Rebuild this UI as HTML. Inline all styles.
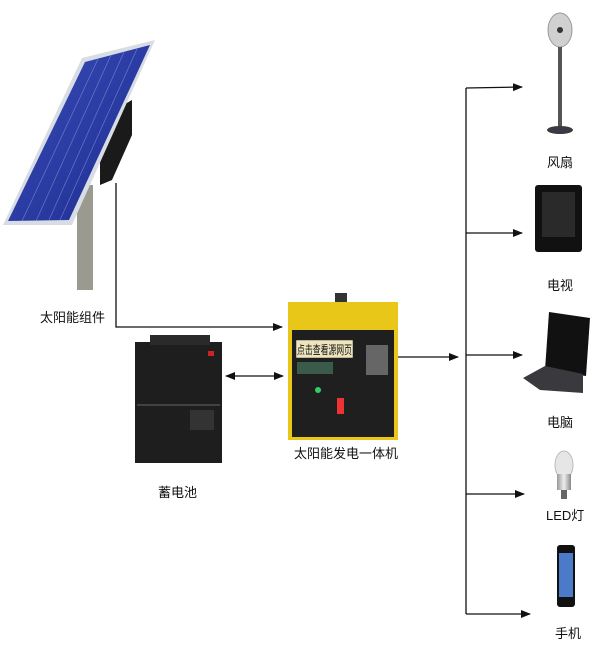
<!DOCTYPE html>
<html><head><meta charset="utf-8"><style>
html,body{margin:0;padding:0;background:#fff;}
svg text{font-family:"Liberation Sans","Noto Sans CJK SC",sans-serif;fill:#111;}
</style></head><body>
<svg width="600" height="644" viewBox="0 0 600 644" xmlns="http://www.w3.org/2000/svg">
<defs>
<marker id="a" markerWidth="10" markerHeight="8" refX="9" refY="4" orient="auto" markerUnits="userSpaceOnUse"><path d="M0,0 L10,4 L0,8 z" fill="#111"/></marker>
<marker id="b" markerWidth="10" markerHeight="8" refX="1" refY="4" orient="auto" markerUnits="userSpaceOnUse"><path d="M10,0 L0,4 L10,8 z" fill="#111"/></marker>
<linearGradient id="pv" x1="0" y1="0" x2="1" y2="1"><stop offset="0" stop-color="#3a4fb8"/><stop offset="1" stop-color="#1c2a90"/></linearGradient>
<linearGradient id="bu" x1="0" y1="0" x2="1" y2="0"><stop offset="0" stop-color="#999"/><stop offset="0.5" stop-color="#eee"/><stop offset="1" stop-color="#888"/></linearGradient>
</defs>
<!-- solar panel -->
<rect x="77" y="185" width="16" height="105" fill="#9a9a90"/>
<polygon points="118,108 132,100 132,135 112,180 100,185 100,150" fill="#1a1a1a"/>
<polygon points="82,58 155,40 72,225 3,225" fill="#d8dce4"/>
<polygon points="85,62 150,45 69,220 8,221" fill="url(#pv)"/>
<g stroke="#8fa0e0" stroke-width="0.6" opacity="0.7">
<line x1="98" y1="59" x2="22" y2="221"/><line x1="111" y1="55" x2="36" y2="221"/><line x1="124" y1="52" x2="49" y2="220"/><line x1="137" y1="49" x2="60" y2="220"/>
</g>
<!-- connectors -->
<g stroke="#111" stroke-width="1.3" fill="none">
<polyline points="116,183 116,327 282,327" marker-end="url(#a)"/>
<line x1="226" y1="376" x2="283" y2="376" marker-start="url(#b)" marker-end="url(#a)"/>
<line x1="398" y1="357" x2="458" y2="357" marker-end="url(#a)"/>
<line x1="466" y1="88" x2="466" y2="614"/>
<line x1="466" y1="88" x2="522" y2="87" marker-end="url(#a)"/>
<line x1="466" y1="233" x2="522" y2="233" marker-end="url(#a)"/>
<line x1="466" y1="355" x2="522" y2="355" marker-end="url(#a)"/>
<line x1="466" y1="494" x2="524" y2="494" marker-end="url(#a)"/>
<line x1="466" y1="614" x2="530" y2="614" marker-end="url(#a)"/>
</g>
<!-- battery -->
<rect x="135" y="342" width="87" height="121" fill="#1e1e1e"/>
<rect x="150" y="335" width="60" height="10" fill="#2a2a2a"/>
<rect x="208" y="351" width="6" height="5" fill="#c22"/>
<line x1="137" y1="405" x2="220" y2="405" stroke="#666" stroke-width="1"/>
<rect x="190" y="410" width="24" height="20" fill="#333"/>
<!-- generator -->
<rect x="335" y="293" width="12" height="30" fill="#333"/>
<rect x="288" y="302" width="110" height="138" fill="#e8c718"/>
<rect x="292" y="330" width="102" height="107" fill="#1f1f1f"/>
<rect x="296" y="340" width="57" height="18" fill="#efe6c0" stroke="#222" stroke-width="0.5"/>
<text x="297" y="354" font-size="12" textLength="55" lengthAdjust="spacingAndGlyphs">点击查看源网页</text>
<rect x="297" y="362" width="36" height="12" fill="#3a5a4a"/>
<rect x="366" y="345" width="22" height="30" fill="#666"/>
<circle cx="318" cy="390" r="3" fill="#3c6"/>
<rect x="337" y="398" width="7" height="16" fill="#e33"/>
<!-- labels left/center -->
<text x="40" y="322" font-size="13">太阳能组件</text>
<text x="158" y="497" font-size="13">蓄电池</text>
<text x="294" y="458" font-size="13">太阳能发电一体机</text>
<!-- fan -->
<ellipse cx="560" cy="30" rx="12" ry="17" fill="#d0d0d0" stroke="#999"/>
<circle cx="560" cy="30" r="3" fill="#333"/>
<rect x="558" y="47" width="4" height="82" fill="#555"/>
<ellipse cx="560" cy="130" rx="13" ry="4" fill="#3a3a44"/>
<text x="547" y="167" font-size="13">风扇</text>
<!-- tv -->
<rect x="535" y="185" width="47" height="67" rx="3" fill="#111"/>
<rect x="542" y="192" width="33" height="45" fill="#2a2a2a"/>
<text x="547" y="290" font-size="13">电视</text>
<!-- laptop -->
<polygon points="549,312 590,318 586,376 545,370" fill="#111"/>
<polygon points="523,378 545,366 583,374 583,393 540,390" fill="#3a3a3e"/>
<text x="547" y="427" font-size="13">电脑</text>
<!-- bulb -->
<ellipse cx="564" cy="465" rx="9" ry="14" fill="#e6e6e6" stroke="#bbb"/>
<rect x="557" y="474" width="14" height="16" fill="url(#bu)"/>
<rect x="561" y="490" width="6" height="9" fill="#666"/>
<text x="546" y="520" font-size="13">LED灯</text>
<!-- phone -->
<rect x="557" y="545" width="18" height="62" rx="3" fill="#111"/>
<rect x="559" y="553" width="14" height="44" fill="#4a7ac8"/>
<text x="555" y="638" font-size="13">手机</text>
</svg>
</body></html>
